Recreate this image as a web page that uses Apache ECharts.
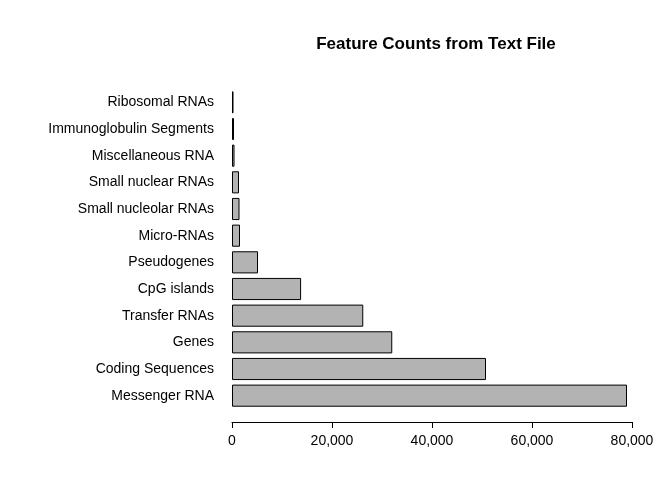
<!DOCTYPE html><html><head><meta charset="utf-8"><script src="https://cdn.jsdelivr.net/npm/echarts@6/dist/echarts.min.js"></script></head><body style="margin:0;background:#fff"><div id="c" style="width:672px;height:480px"></div><script>
const categories=["Messenger RNA","Coding Sequences","Genes","Transfer RNAs","CpG islands","Pseudogenes","Micro-RNAs","Small nucleolar RNAs","Small nuclear RNAs","Miscellaneous RNA","Immunoglobulin Segments","Ribosomal RNAs"];
const values=[79000,50800,32050,26250,13820,5200,1600,1500,1400,500,400,300];
const ticks=[0,20000,40000,60000,80000];
const ch=echarts.init(document.getElementById('c'));
ch.setOption({animation:false,
title:{text:"Feature Counts from Text File",left:431,top:31,textAlign:'center',textStyle:{fontFamily:'Liberation Sans',fontSize:17,fontWeight:'bold',color:'#000'}},
grid:{left:232,right:40,top:89,bottom:71},
xAxis:{type:'value',min:0,max:80000,interval:20000,offset:13,axisLine:{show:true,lineStyle:{color:'#000'}},axisTick:{show:true,length:6,lineStyle:{color:'#000'}},splitLine:{show:false},axisLabel:{color:'#000',fontFamily:'Liberation Sans',fontSize:14,margin:12}},
yAxis:{type:'category',data:categories,axisLine:{show:false},axisTick:{show:false},axisLabel:{color:'#000',fontFamily:'Liberation Sans',fontSize:14,margin:18}},
series:[{type:'bar',data:values,barCategoryGap:'17%',itemStyle:{color:'#b3b3b3',borderColor:'#000',borderWidth:1}}]});
</script></body></html>
